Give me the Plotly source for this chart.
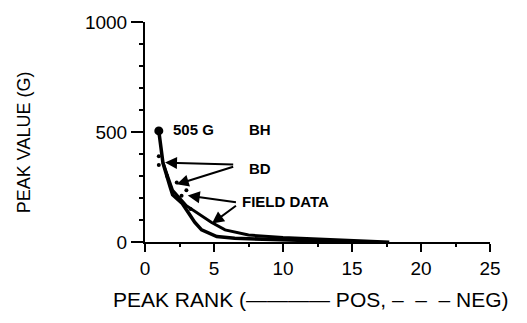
import plotly.graph_objects as go

# BH curve (positive peaks)
bh_rank = [1, 1.3, 1.8, 2.0, 2.7, 3.6, 4.1, 5.2, 6.5, 9, 12, 15]
bh_value = [505, 360, 255, 215, 175, 90, 55, 25, 17, 11, 6, 0]
# BD curve
bd_rank = [1.3, 2.0, 3.0, 4.0, 4.8, 5.8, 7.5, 10, 13, 16, 17.7]
bd_value = [360, 235, 165, 125, 90, 55, 32, 20, 12, 5, 0]
# Field data points
fd_rank = [1.0, 1.0, 1.6, 2.3, 2.65, 3.0, 3.3]
fd_value = [390, 350, 300, 270, 210, 235, 150]

fig = go.Figure()
fig.add_trace(go.Scatter(x=bh_rank, y=bh_value, mode="lines",
                         line=dict(color="black", width=3.5), showlegend=False))
fig.add_trace(go.Scatter(x=bd_rank, y=bd_value, mode="lines",
                         line=dict(color="black", width=3), showlegend=False))
fig.add_trace(go.Scatter(x=[bh_rank[0]], y=[bh_value[0]], mode="markers",
                         marker=dict(color="black", size=9), showlegend=False))
fig.add_trace(go.Scatter(x=fd_rank, y=fd_value, mode="markers",
                         marker=dict(color="black", size=4), showlegend=False))

font_lbl = dict(family="Liberation Sans", size=15, color="black")
anns = [
    dict(x=1.9, y=510, text="<b>505 G</b>", showarrow=False, xanchor="left", font=font_lbl),
    dict(x=7.4, y=510, text="<b>BH</b>", showarrow=False, xanchor="left", font=font_lbl),
    dict(x=7.4, y=335, text="<b>BD</b>", showarrow=False, xanchor="left", font=font_lbl),
    dict(x=6.9, y=185, text="<b>FIELD DATA</b>", showarrow=False, xanchor="left", font=font_lbl),
]
arrows = [
    (1.45, 361, 6.5, 352),
    (2.3, 262, 6.5, 344),
    (3.1, 211, 6.7, 180),
    (4.85, 84, 6.7, 170),
]
for hx, hy, tx, ty in arrows:
    anns.append(dict(x=hx, y=hy, ax=tx, ay=ty, axref="x", ayref="y", xref="x", yref="y",
                     showarrow=True, arrowhead=2, arrowsize=1.2, arrowwidth=2,
                     arrowcolor="black", text=""))

tick_font = dict(family="Liberation Sans", size=19, color="black")
title_font = dict(family="Liberation Sans", size=21, color="black")
ytitle_font = dict(family="Liberation Sans", size=18, color="black")
anns.append(dict(xref="paper", yref="paper", x=-0.35, y=0.455, xanchor="center",
                 yanchor="middle", text="PEAK VALUE (G)",
                 textangle=-90, showarrow=False, font=ytitle_font))
anns.append(dict(xref="paper", yref="paper", x=0.48, y=-0.26, yanchor="middle",
                 text="PEAK RANK (\u2014\u2014\u2014\u2014 POS,\u00a0\u2013\u00a0\u00a0\u2013\u00a0\u00a0\u2013\u00a0NEG)",
                 showarrow=False, font=title_font))

fig.update_layout(
    width=527, height=323,
    margin=dict(l=145, r=37, t=15, b=81),
    paper_bgcolor="white", plot_bgcolor="white",
    annotations=anns,
    font=tick_font,
    xaxis=dict(range=[0, 25], tickmode="array", tickvals=[0, 5, 10, 15, 20, 25],
               ticks="outside", ticklen=8, tickwidth=2, tickcolor="black",
               showline=True, linecolor="black", linewidth=2, showgrid=False,
               zeroline=False, tickfont=tick_font,
               minor=dict(dtick=2.5, ticks="outside", ticklen=3, tickwidth=2, tickcolor="black")),
    yaxis=dict(range=[0, 1000], tickmode="array", tickvals=[0, 500, 1000],
               ticks="outside", ticklen=12, tickwidth=2, tickcolor="black",
               showline=True, linecolor="black", linewidth=2, showgrid=False,
               zeroline=False, tickfont=tick_font,
               minor=dict(dtick=100, ticks="outside", ticklen=4, tickwidth=2, tickcolor="black")),
)
fig.write_html("out.html")
